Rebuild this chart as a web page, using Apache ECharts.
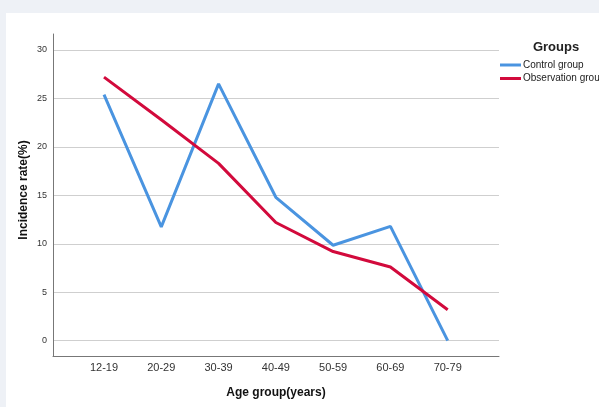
<!DOCTYPE html>
<html>
<head>
<meta charset="utf-8">
<script src="https://cdn.jsdelivr.net/npm/echarts@6/dist/echarts.min.js"></script>
<style>
html,body{margin:0;padding:0;background:#eef1f6;}
#c{width:599px;height:407px;}
</style>
</head>
<body>
<div id="c"></div>
<script>
const categories = ['12-19','20-29','30-39','40-49','50-59','60-69','70-79'];
const controlGroup = [25.4, 11.75, 26.5, 14.8, 9.85, 11.8, 0];
const observationGroup = [27.2, 22.8, 18.3, 12.2, 9.2, 7.6, 3.2];
const yTicks = {min: 0, max: 30, interval: 5};
const seriesNames = ['Control group', 'Observation group'];

const FONT = 'Liberation Sans, Arial, sans-serif';
const chart = echarts.init(document.getElementById('c'), null, {renderer: 'canvas'});
chart.setOption({
  backgroundColor: '#eef1f6',
  animation: false,
  graphic: [{
    type: 'rect', z: -10, left: 6, top: 13,
    shape: {width: 593, height: 394},
    style: {fill: '#ffffff'}
  }],
  title: {
    text: 'Groups', left: 551, top: 36, textAlign: 'center',
    textStyle: {fontFamily: FONT, fontSize: 13, fontWeight: 'bold', color: '#222'}
  },
  legend: {
    orient: 'vertical', left: 500, top: 59.5, padding: 0,
    itemWidth: 21, itemHeight: 3, itemGap: 2.5, icon: 'rect',
    textStyle: {fontFamily: FONT, fontSize: 10, color: '#222', lineHeight: 11, padding: [0,0,0,-3]},
    data: seriesNames
  },
  grid: [
    {left: 53, right: 100, top: 50, bottom: 66.3},
    {left: 104, right: 151.3, top: 50, bottom: 66.3},
    {left: 53, right: 100, top: 34, bottom: 51}
  ],
  xAxis: [
    {gridIndex: 0, type: 'value', min: 0, max: 1, show: false},
    {gridIndex: 1, type: 'category', data: categories, boundaryGap: false,
     axisLine: {show: false}, axisTick: {show: false},
     axisLabel: {margin: 22, fontFamily: FONT, fontSize: 11, color: '#333'}},
    {gridIndex: 2, type: 'value', min: 0, max: 1,
     axisLine: {show: true, onZero: false, lineStyle: {color: '#777', width: 1}},
     axisTick: {show: false}, axisLabel: {show: false}, splitLine: {show: false},
     name: 'Age group(years)', nameLocation: 'middle', nameGap: 31,
     nameTextStyle: {fontFamily: FONT, fontSize: 12, fontWeight: 'bold', color: '#111'}}
  ],
  yAxis: [
    {gridIndex: 0, type: 'value', min: yTicks.min, max: yTicks.max, interval: yTicks.interval,
     axisLine: {show: false}, axisTick: {show: false},
     axisLabel: {margin: 6, fontFamily: FONT, fontSize: 9, color: '#333'},
     splitLine: {show: true, lineStyle: {color: '#cfcfcf', width: 1.2}}},
    {gridIndex: 1, type: 'value', min: yTicks.min, max: yTicks.max, interval: yTicks.interval, show: false},
    {gridIndex: 2, type: 'value', min: 0, max: 1,
     axisLine: {show: true, onZero: false, lineStyle: {color: '#777', width: 1}},
     axisTick: {show: false}, axisLabel: {show: false}, splitLine: {show: false},
     name: 'Incidence rate(%)', nameLocation: 'middle', nameGap: 23,
     nameTextStyle: {fontFamily: FONT, fontSize: 12, fontWeight: 'bold', color: '#111', padding: [0,0,0,10]}}
  ],
  series: [
    {name: seriesNames[0], type: 'line', xAxisIndex: 1, yAxisIndex: 1, data: controlGroup,
     showSymbol: false, symbol: 'none', lineStyle: {color: '#4a94e0', width: 3}, itemStyle: {color: '#4a94e0'}, z: 3},
    {name: seriesNames[1], type: 'line', xAxisIndex: 1, yAxisIndex: 1, data: observationGroup,
     showSymbol: false, symbol: 'none', lineStyle: {color: '#d20a3c', width: 3}, itemStyle: {color: '#d20a3c'}, z: 4}
  ]
});
</script>
</body>
</html>
